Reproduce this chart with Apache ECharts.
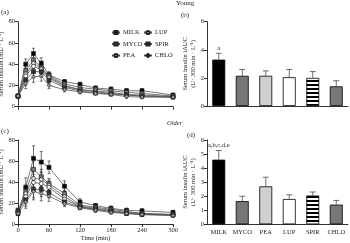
<!DOCTYPE html>
<html>
<head>
<meta charset="utf-8">
<script src="https://cdn.jsdelivr.net/npm/echarts@6/dist/echarts.min.js"></script>
<style>
  html, body { margin: 0; padding: 0; background: #fff; }
  #chart { width: 350px; height: 243px; }
</style>
</head>
<body>
<div id="chart"></div>
<script>
// time points (min)
var times = [0, 15, 30, 45, 60, 90, 120, 150, 180, 210, 240, 300];
var groups = ['MILK', 'MYCO', 'PEA', 'LUP', 'SPIR', 'CHLO'];

// young serum insulin (mU/L)
var youngMILK = [10, 40, 50, 41, 30, 23.5, 21, 17.5, 16.5, 15, 15, 11];
var youngMYCO = [10, 34, 44, 37, 29, 21.5, 18, 16.5, 15, 13.5, 12.5, 10];
var youngPEA  = [10, 31, 41, 36, 28, 20, 16, 15, 13.5, 11.5, 11, 9.5];
var youngLUP  = [10, 29, 38, 35, 27, 19, 16, 14, 12.5, 11, 10, 9];
var youngSPIR = [10, 25, 33, 33, 25, 18, 15, 13, 12, 11, 10, 9];
var youngCHLO = [10, 22, 28, 29, 20, 16, 14, 12.5, 11.5, 9.5, 9, 9];
var youngErrMILK  = [1.5, 5, 5, 5, 3, 2, 2, 2, 2, 2, 2, 1.5];
var youngErrOther = [1, 5, 5, 5, 3, 2, 2, 1.5, 1.5, 1.5, 1.5, 1];

// older serum insulin (mU/L)
var olderMILK = [10, 35, 62.5, 59, 54, 36, 21, 17.5, 15, 13, 12.5, 11];
var olderMYCO = [12, 31, 52, 45, 38.5, 29, 18, 16, 14, 12, 10, 9];
var olderPEA  = [11, 29, 43.5, 42.5, 37, 26, 17, 15, 13, 11, 10, 9];
var olderLUP  = [12, 26, 39.5, 38.5, 35, 23.5, 16.5, 14, 12, 10.5, 9.5, 8.5];
var olderSPIR = [13, 23, 33, 33, 30, 21, 16, 14, 12, 10, 9, 8.5];
var olderCHLO = [10, 21, 31, 29, 26.5, 19.5, 15.5, 13, 11, 10, 9, 8];
var olderErrMILK  = [2, 9, 12, 10, 6, 5, 3, 2, 2, 2, 2, 2];
var olderErrOther = [2, 6, 8, 7, 5, 3, 2, 2, 1.5, 1.5, 1.5, 1.5];

// iAUC
var youngAUC = [3.3, 2.15, 2.15, 2.05, 2.0, 1.4];
var youngAUCErr = [0.45, 0.45, 0.35, 0.55, 0.45, 0.4];
var olderAUC = [4.6, 1.65, 2.7, 1.8, 2.05, 1.4];
var olderAUCErr = [0.65, 0.35, 0.65, 0.3, 0.25, 0.3];

var font = 'Liberation Serif';

// stripes for SPIR bars
var stripe = document.createElement('canvas');
stripe.width = 4; stripe.height = 4;
var sctx = stripe.getContext('2d');
sctx.fillStyle = '#fff'; sctx.fillRect(0, 0, 4, 4);
sctx.fillStyle = '#000'; sctx.fillRect(0, 0, 4, 2);

var barColors = ['#000', '#777', '#d0d0d0', '#fff', { image: stripe, repeat: 'repeat' }, '#777'];
var symbols = ['rect', 'rect', 'circle', 'circle', 'rect', 'diamond'];
var symbolFill = ['#000', '#777', '#ddd', '#fff', '#333', '#999'];

var chart = echarts.init(document.getElementById('chart'));

function zip(a, b) {
    return a.map(function (v, i) { return [v, b[i]]; });
}

function errSeries(xs, ys, errs, idx, isCat) {
    return {
        type: 'custom',
        name: 'err',
        xAxisIndex: idx, yAxisIndex: idx,
        silent: true,
        z: 1,
        data: ys.map(function (v, i) { return [isCat ? i : xs[i], v, errs[i]]; }),
        renderItem: function (params, api) {
            var x = api.value(0), y = api.value(1), e = api.value(2);
            var top = api.coord([x, y + e]);
            var mid = api.coord([x, y]);
            var bot = isCat ? mid : api.coord([x, y - e]);
            var w = isCat ? 3 : 1.5;
            var st = { stroke: '#333', lineWidth: 0.7 };
            var kids = [
                { type: 'line', shape: { x1: top[0], y1: top[1], x2: bot[0], y2: bot[1] }, style: st },
                { type: 'line', shape: { x1: top[0] - w, y1: top[1], x2: top[0] + w, y2: top[1] }, style: st }
            ];
            if (!isCat) kids.push({ type: 'line', shape: { x1: bot[0] - w, y1: bot[1], x2: bot[0] + w, y2: bot[1] }, style: st });
            return { type: 'group', children: kids };
        }
    };
}

var axisLine = { lineStyle: { color: '#000', width: 0.8 } };
var axisTick = { length: 3, lineStyle: { color: '#000', width: 0.8 } };
var labelStyle = { fontFamily: font, fontSize: 6.5, color: '#222', margin: 3 };

var series = [];
var youngSets = [youngMILK, youngMYCO, youngPEA, youngLUP, youngSPIR, youngCHLO];
var olderSets = [olderMILK, olderMYCO, olderPEA, olderLUP, olderSPIR, olderCHLO];

[youngSets, olderSets].forEach(function (sets, p) {
    var idx = p === 0 ? 0 : 2;
    sets.forEach(function (ys, k) {
        var errs = k === 0 ? (p === 0 ? youngErrMILK : olderErrMILK) : (p === 0 ? youngErrOther : olderErrOther);
        series.push(errSeries(times, ys, errs, idx, false));
        series.push({
            type: 'line',
            name: groups[k],
            xAxisIndex: idx, yAxisIndex: idx,
            data: zip(times, ys),
            symbol: symbols[k],
            symbolSize: 4,
            color: symbolFill[k],
            lineStyle: { color: '#555', width: 0.8 },
            itemStyle: { color: symbolFill[k], borderColor: '#222', borderWidth: 0.7 },
            z: 3
        });
    });
});

[[youngAUC, youngAUCErr, 'a', 1], [olderAUC, olderAUCErr, 'a,b,c,d,e', 3]].forEach(function (d) {
    var vals = d[0], errs = d[1], idx = d[3];
    series.push({
        type: 'bar',
        name: 'auc',
        xAxisIndex: idx, yAxisIndex: idx,
        barWidth: '55%',
        data: vals.map(function (v, i) {
            var item = {
                value: v,
                itemStyle: { color: barColors[i], borderColor: '#000', borderWidth: 0.8 }
            };
            if (i === 0) {
                item.label = {
                    show: true, position: 'top', formatter: d[2],
                    distance: errs[0] * 14 + 2,
                    fontFamily: font, fontSize: 6.5, color: '#222'
                };
            }
            return item;
        }),
        z: 2
    });
    series.push(errSeries(null, vals, errs, idx, true));
});

var grids = [
    { left: 18, top: 21.7, width: 155, height: 85, outerBoundsMode: 'none' },
    { left: 207, top: 21.7, width: 141, height: 84.3, outerBoundsMode: 'none' },
    { left: 18, top: 140, width: 155, height: 84, outerBoundsMode: 'none' },
    { left: 207, top: 140, width: 141, height: 84.3, outerBoundsMode: 'none' }
];

var nameStyle = { fontFamily: font, fontSize: 6.5, color: '#222' };
var legendText = { fontFamily: font, fontSize: 6.5, color: '#222', padding: [0, 0, 0, -2] };

var option = {
    animation: false,
    backgroundColor: '#fff',
    grid: grids,
    legend: [
        {
            data: ['MILK', 'MYCO', 'PEA'], orient: 'vertical', left: 106, top: 24,
            itemWidth: 8, itemHeight: 4, itemGap: 4.5, textStyle: legendText
        },
        {
            data: ['LUP', 'SPIR', 'CHLO'], orient: 'vertical', left: 138, top: 24,
            itemWidth: 8, itemHeight: 4, itemGap: 4.5, textStyle: legendText
        }
    ],
    xAxis: [
        { gridIndex: 0, type: 'value', min: 0, max: 300, interval: 60, axisLine: axisLine, axisTick: axisTick,
          axisLabel: { show: false }, splitLine: { show: false } },
        { gridIndex: 1, type: 'category', data: groups, axisLine: axisLine,
          axisTick: { alignWithLabel: true, length: 3, lineStyle: { color: '#000', width: 0.8 } },
          axisLabel: { show: false } },
        { gridIndex: 2, type: 'value', min: 0, max: 300, interval: 60, axisLine: axisLine, axisTick: axisTick,
          axisLabel: labelStyle, splitLine: { show: false },
          name: 'Time (min)', nameLocation: 'middle', nameGap: 11, nameTextStyle: nameStyle },
        { gridIndex: 3, type: 'category', data: groups, axisLine: axisLine,
          axisTick: { alignWithLabel: true, length: 3, lineStyle: { color: '#000', width: 0.8 } },
          axisLabel: { fontFamily: font, fontSize: 6.5, color: '#222', margin: 4, interval: 0 } }
    ],
    yAxis: [
        { gridIndex: 0, type: 'value', min: 0, max: 80, interval: 20, axisLine: { show: true, lineStyle: axisLine.lineStyle },
          axisTick: { show: true, length: 3, lineStyle: axisTick.lineStyle }, axisLabel: labelStyle, splitLine: { show: false },
          name: 'Serum insulin (mU · L⁻¹)', nameLocation: 'middle', nameGap: 11, nameTextStyle: nameStyle },
        { gridIndex: 1, type: 'value', min: 0, max: 6, interval: 2, axisLine: { show: true, lineStyle: axisLine.lineStyle },
          axisTick: { show: true, length: 3, lineStyle: axisTick.lineStyle }, axisLabel: labelStyle, splitLine: { show: false },
          name: 'Serum insulin iAUC\n(U· 300 min · L⁻¹)', nameLocation: 'middle', nameGap: 8,
          nameTextStyle: { fontFamily: font, fontSize: 6.5, color: '#222', lineHeight: 8 } },
        { gridIndex: 2, type: 'value', min: 0, max: 80, interval: 20, axisLine: { show: true, lineStyle: axisLine.lineStyle },
          axisTick: { show: true, length: 3, lineStyle: axisTick.lineStyle }, axisLabel: labelStyle, splitLine: { show: false },
          name: 'Serum insulin (mU · L⁻¹)', nameLocation: 'middle', nameGap: 11, nameTextStyle: nameStyle },
        { gridIndex: 3, type: 'value', min: 0, max: 6, interval: 1, axisLine: { show: true, lineStyle: axisLine.lineStyle },
          axisTick: { show: true, length: 3, lineStyle: axisTick.lineStyle }, axisLabel: labelStyle, splitLine: { show: false },
          name: 'Serum insulin iAUC\n(U· 300 min · L⁻¹)', nameLocation: 'middle', nameGap: 8,
          nameTextStyle: { fontFamily: font, fontSize: 6.5, color: '#222', lineHeight: 8 } }
    ],
    graphic: [
        { type: 'text', left: 176, top: 0, style: { text: 'Young', font: '7px "Liberation Serif"', fill: '#222' } },
        { type: 'text', left: 167, top: 120, style: { text: 'Older', font: 'italic 6.5px "Liberation Serif"', fill: '#222' } },
        { type: 'text', left: 1, top: 9, style: { text: '(a)', font: '7px "Liberation Serif"', fill: '#222' } },
        { type: 'text', left: 181, top: 12, style: { text: '(b)', font: '7px "Liberation Serif"', fill: '#222' } },
        { type: 'text', left: 1, top: 128, style: { text: '(c)', font: '7px "Liberation Serif"', fill: '#222' } },
        { type: 'text', left: 187, top: 132, style: { text: '(d)', font: '7px "Liberation Serif"', fill: '#222' } }
    ],
    series: series
};

chart.setOption(option);
</script>
</body>
</html>
